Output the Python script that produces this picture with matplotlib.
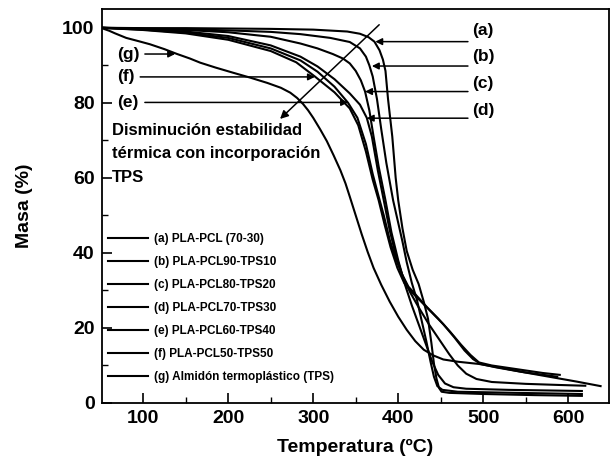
import matplotlib
matplotlib.use("Agg")
import matplotlib.pyplot as plt
from matplotlib.lines import Line2D
from matplotlib.ticker import MultipleLocator

plt.rcParams['font.family'] = ['Liberation Sans', 'DejaVu Sans']
plt.rcParams['font.weight'] = 'bold'

labels = ["(a) PLA-PCL (70-30)", "(b) PLA-PCL90-TPS10", "(c) PLA-PCL80-TPS20",
          "(d) PLA-PCL70-TPS30", "(e) PLA-PCL60-TPS40", "(f) PLA-PCL50-TPS50",
          "(g) Almidón termoplástico (TPS)"]

T_a = [50, 100, 150, 200, 250, 300, 340, 355, 365, 372, 378, 382, 385, 388, 393, 397, 400, 405, 410, 417, 424, 430, 435, 439, 442, 445, 448, 451, 460, 500, 560, 616]
M_a = [100, 99.9, 99.9, 99.8, 99.7, 99.5, 99.0, 98.4, 97.5, 96.3, 94.0, 91.5, 88.5, 81, 71, 60, 54, 46.5, 40.5, 35.5, 31.7, 27, 22.5, 16, 10.5, 6.5, 4.0, 3.0, 2.7, 2.4, 2.1, 1.9]

T_b = [50, 100, 150, 200, 250, 285, 320, 343, 355, 362, 366, 370, 375, 380, 386, 394, 400, 405, 410, 416, 422, 428, 433, 438, 442, 446, 452, 470, 540, 616]
M_b = [100, 99.8, 99.6, 99.3, 98.9, 98.3, 97.3, 96.2, 94.5, 92.3, 90, 87, 81, 73, 64, 54, 48, 43, 37.5, 32, 27.5, 21.5, 16.5, 11, 7, 4.5, 3.5, 3.0, 2.7, 2.4]

T_c = [50, 100, 150, 200, 250, 285, 305, 323, 335, 343, 350, 356, 361, 366, 371, 377, 385, 392, 400, 408, 416, 424, 432, 440, 447, 455, 465, 480, 530, 616]
M_c = [100, 99.7, 99.4, 98.8, 97.6, 95.8, 94.5, 93, 91.8, 90.5, 88.5, 86, 83, 78, 71, 63, 54, 45.5, 38, 31.5, 26, 21, 16, 11, 7.5, 5.2, 4.2, 3.8, 3.5, 3.2]

T_d = [50, 100, 150, 200, 250, 285, 305, 325, 343, 355, 363, 369, 376, 383, 390, 397, 405, 414, 424, 436, 448, 460, 470, 480, 492, 510, 550, 590, 620]
M_d = [100, 99.6, 99.0, 97.8, 95.3, 92.3, 89.7, 86.3, 82.5, 79.5, 76, 71, 62, 54, 46, 39.5, 34, 29.5, 25.5, 21, 17, 13, 10, 7.8, 6.4, 5.6, 5.1, 4.8, 4.6]

T_e = [50, 100, 150, 200, 250, 285, 305, 325, 341, 352, 362, 370, 377, 383, 390, 397, 404, 412, 422, 434, 447, 461, 474, 485, 495, 510, 540, 570, 590]
M_e = [100, 99.5, 98.7, 97.3, 94.5, 91.3, 88.3, 84.3, 80, 76, 69, 61, 55, 50, 43.5, 38.5, 34.5, 31, 28.5, 25.5, 22.5, 19, 15.5, 12.8, 10.8, 10, 9, 8, 7.5]

T_f = [50, 100, 150, 200, 250, 280, 302, 325, 343, 353, 362, 370, 377, 384, 391, 399, 407, 416, 427, 440, 453, 466, 478, 488, 497, 515, 545, 587]
M_f = [100, 99.4, 98.5, 96.8, 93.8, 90.8, 87, 82.8, 78.5, 74, 67, 59.5, 54, 47.5, 41.5, 36, 32, 29.5, 27, 24, 21, 17.5, 14, 11.7, 10.4, 9.5, 8.3, 7.0]

T_g = [50, 55, 60, 67, 80, 95, 108, 125, 140, 155, 167, 185, 206, 226, 246, 262, 273, 281, 288, 294, 300, 308, 316, 324, 332, 338, 343, 350, 357, 364, 371, 380, 390, 400, 410, 420, 430, 441, 453, 470, 495, 520, 550, 580, 610, 638]
M_g = [100, 99.6, 99.2, 98.5, 97.3, 96.4, 95.6, 94.3, 93, 91.8, 90.7, 89.4, 88, 86.7, 85.3, 84, 82.7, 81.3, 79.7, 78, 76, 73, 69.8, 66, 62, 58.5, 55, 50, 45, 40.3, 36, 31.5, 27, 23, 19.5, 16.5, 14.2, 12.7, 11.6, 11, 10.4, 9.4, 8.1, 6.9, 5.7, 4.5]

series = [(T_a, M_a), (T_b, M_b), (T_c, M_c), (T_d, M_d), (T_e, M_e), (T_f, M_f), (T_g, M_g)]

fig = plt.figure(figsize=(6.13, 4.66), dpi=100)
ax = fig.add_axes([0.1656, 0.1352, 0.828, 0.8455])

for (t, m), lab in zip(series, labels):
    ax.plot(t, m, color='black', lw=1.5, label=lab)

ax.set_xlim(51, 648)
ax.set_ylim(0, 105)
ax.xaxis.set_major_locator(MultipleLocator(100))
ax.xaxis.set_minor_locator(MultipleLocator(50))
ax.yaxis.set_major_locator(MultipleLocator(20))
ax.yaxis.set_minor_locator(MultipleLocator(10))
ax.tick_params(which='major', direction='in', length=7, width=1.2, labelsize=14, top=False, right=False, pad=5)
ax.tick_params(which='minor', direction='in', length=4, width=1.0, top=False, right=False)
for lbl in ax.get_xticklabels() + ax.get_yticklabels():
    lbl.set_fontweight('bold')
for s in ax.spines.values():
    s.set_linewidth(1.3)

ax.set_xlabel('Temperatura (ºC)', fontsize=14, fontweight='bold', labelpad=9)
ax.set_ylabel('Masa (%)', fontsize=14, fontweight='bold', labelpad=21)

handles = [Line2D([], [], color='black', lw=1.5) for _ in labels]
ax.legend(handles, labels, loc='upper left', bbox_to_anchor=(0.0118, 0.432),
          frameon=False, handlelength=3.4, handletextpad=0.5,
          labelspacing=0.93, borderpad=0, borderaxespad=0,
          prop={'weight': 'bold', 'size': 8.5})

arr = dict(arrowstyle='-|>', color='black', lw=1.1, mutation_scale=10, shrinkA=0, shrinkB=0)
right_labels = ['(a)', '(b)', '(c)', '(d)']
right_text_y = [99.2, 92.3, 85.2, 77.9]
right_arrow_y = [96.3, 89.8, 83.0, 75.9]
right_tip_x = [373, 369, 361, 363]
for lab, ty, ay, tx in zip(right_labels, right_text_y, right_arrow_y, right_tip_x):
    ax.text(487, ty, lab, fontsize=12.5, fontweight='bold', ha='left', va='center')
    ax.annotate('', xy=(tx, ay), xytext=(482, ay), arrowprops=arr)

left_labels = ['(g)', '(f)', '(e)']
left_y = [93.0, 86.9, 80.1]
left_tail = [102, 96.5, 102]
left_tip = [137.6, 302, 341]
for lab, y, t0, t1 in zip(left_labels, left_y, left_tail, left_tip):
    ax.text(69, y, lab, fontsize=12.5, fontweight='bold', ha='left', va='center')
    ax.annotate('', xy=(t1, y), xytext=(t0, y), arrowprops=arr)

ax.annotate('', xy=(261, 75.7), xytext=(377.6, 100.8),
            arrowprops=dict(arrowstyle='-|>', color='black', lw=1.1, mutation_scale=12, shrinkA=0, shrinkB=0))

for line, y in zip(['Disminución estabilidad', 'térmica con incorporación', 'TPS'], [72.5, 66.4, 60.0]):
    ax.text(63, y, line, fontsize=12, fontweight='bold', ha='left', va='center')

fig.savefig('out.png', dpi=100)
